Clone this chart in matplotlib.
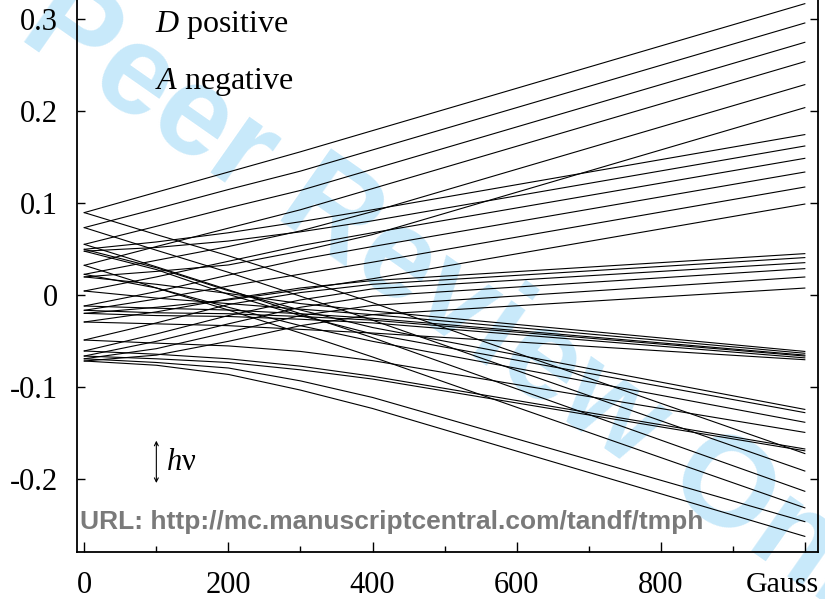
import matplotlib.pyplot as plt
from matplotlib.ticker import FixedLocator, FixedFormatter, MultipleLocator

plt.rcParams['font.family'] = ['Liberation Serif', 'DejaVu Serif']
plt.rcParams['mathtext.fontset'] = 'custom'
plt.rcParams['mathtext.rm'] = 'Liberation Serif'
plt.rcParams['mathtext.it'] = 'Liberation Serif:italic'

# magnetic field (Gauss) at which each level is sampled
field = [0, 100, 200, 300, 400, 1000]

# energies (cm^-1) of the branches that go up with field
rising = [
    [0.0899, 0.112, 0.134, 0.156, 0.179, 0.317],
    [0.0736, 0.094, 0.115, 0.135, 0.158, 0.296],
    [0.0554, 0.075, 0.095, 0.114, 0.137, 0.275],
    [0.0326, 0.053, 0.073, 0.093, 0.116, 0.254],
    [0.0228, 0.038, 0.053, 0.070, 0.091, 0.229],
    [0.0200, 0.026, 0.033, 0.048, 0.066, 0.204],
    [0.0500, 0.058, 0.068, 0.080, 0.093, 0.1747],
    [0.0480, 0.052, 0.059, 0.069, 0.081, 0.1623],
    [0.0047, 0.020, 0.037, 0.054, 0.068, 0.1489],
    [-0.0116, 0.004, 0.022, 0.039, 0.053, 0.1340],
    [-0.0163, -0.004, 0.010, 0.023, 0.036, 0.1177],
    [-0.0196, -0.013, -0.005, 0.006, 0.018, 0.0992],
    [-0.0290, -0.018, -0.004, 0.008, 0.016, 0.0453],
    [-0.0486, -0.030, -0.010, 0.003, 0.012, 0.0410],
    [-0.0605, -0.042, -0.022, -0.005, 0.007, 0.0355],
    [-0.0660, -0.050, -0.031, -0.013, -0.001, 0.0290],
    [-0.0690, -0.058, -0.040, -0.022, -0.011, 0.0199],
    [-0.0714, -0.065, -0.050, -0.033, -0.021, 0.0079],
]

# energies (cm^-1) of the branches that go down with field
falling = [
    [0.0899, 0.066, 0.043, 0.018, -0.008, -0.172],
    [0.0736, 0.049, 0.025, -0.001, -0.027, -0.191],
    [0.0554, 0.031, 0.006, -0.020, -0.046, -0.213],
    [0.0500, 0.030, 0.005, -0.016, -0.035, -0.124],
    [0.0480, 0.028, 0.001, -0.022, -0.042, -0.1275],
    [0.0326, 0.008, -0.016, -0.041, -0.067, -0.231],
    [0.0228, 0.008, -0.013, -0.033, -0.050, -0.138],
    [0.0200, 0.012, 0.002, -0.009, -0.017, -0.061],
    [0.0047, -0.003, -0.009, -0.015, -0.021, -0.063],
    [-0.0116, -0.014, -0.016, -0.020, -0.025, -0.065],
    [-0.0163, -0.019, -0.020, -0.023, -0.027, -0.066],
    [-0.0196, -0.022, -0.023, -0.026, -0.030, -0.068],
    [-0.0290, -0.031, -0.033, -0.037, -0.041, -0.070],
    [-0.0486, -0.052, -0.055, -0.061, -0.071, -0.149],
    [-0.0605, -0.064, -0.069, -0.077, -0.088, -0.167],
    [-0.0660, -0.069, -0.073, -0.081, -0.091, -0.169],
    [-0.0690, -0.073, -0.079, -0.093, -0.111, -0.246],
    [-0.0714, -0.076, -0.086, -0.103, -0.123, -0.262],
]

xtick_vals = [0, 200, 400, 600, 800]
xtick_text = ['0', '200', '400', '600', '800']
ytick_vals = [-0.2, -0.1, 0, 0.1, 0.2, 0.3]
ytick_text = ['-0.2', '-0.1', '0', '0.1', '0.2', '0.3']

fig = plt.figure(figsize=(8.25, 5.99), dpi=100)
ax = fig.add_axes([77.3 / 825, 47 / 599, 741 / 825, 582 / 599])
ax.patch.set_alpha(0)

# watermark behind the plot
fig.text(0.575, 0.47, 'Peer Review Only', rotation=-35, ha='center', va='center',
         fontsize=92, fontweight='bold', color='#c8e9fa', family='Liberation Sans', zorder=-1)

for level in rising + falling:
    ax.plot(field, level, color='black', lw=0.8)

ax.set_xlim(-9.7, 1018.7)
ax.set_ylim(-0.279, 0.3536)

ax.xaxis.set_major_locator(FixedLocator(xtick_vals + [1000]))
ax.xaxis.set_major_formatter(FixedFormatter(xtick_text + ['']))
ax.xaxis.set_minor_locator(MultipleLocator(100))
ax.yaxis.set_major_locator(FixedLocator(ytick_vals))
ax.yaxis.set_major_formatter(FixedFormatter(ytick_text))

ax.tick_params(which='both', direction='in', right=True, top=False, labelsize=22, width=1.0)
ax.tick_params(axis='x', which='major', length=7, pad=14)
ax.tick_params(axis='x', which='minor', length=4)
ax.tick_params(axis='y', which='major', length=6, pad=14)
for side in ['left', 'right', 'bottom']:
    ax.spines[side].set_linewidth(1.3)
ax.spines['top'].set_visible(False)

ax.text(969, -0.034, 'Gauss', transform=ax.get_xaxis_transform(), ha='center', va='top', fontsize=21.5)

ax.text(98, 0.286, r'$D$ positive', fontsize=23, va='baseline')
ax.text(98, 0.2245, r'$A$ negative', fontsize=23, va='baseline')

ax.annotate('', xy=(100, -0.158), xytext=(100, -0.204),
            arrowprops=dict(arrowstyle='<->', lw=0.8, color='black',
                            shrinkA=0, shrinkB=0, mutation_scale=7))
ax.text(113, -0.182, r'$h$ν', fontsize=22, va='center')

fig.text(80 / 825, 1 - 522 / 599, 'URL: http://mc.manuscriptcentral.com/tandf/tmph',
         fontsize=19, fontweight='bold', color='#7a7a7a', family='Liberation Sans',
         ha='left', va='center', zorder=5)

fig.savefig('out.png', dpi=100)
